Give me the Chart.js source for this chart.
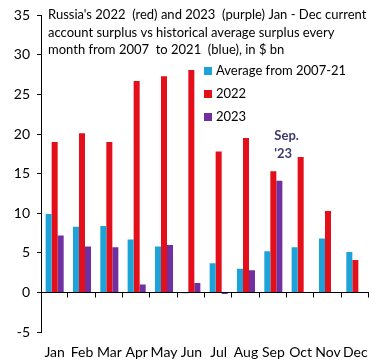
<!DOCTYPE html>
<html>
<head>
<meta charset="utf-8">
<script src="https://cdn.jsdelivr.net/npm/chart.js@4"></script>
<style>
  html, body { margin: 0; padding: 0; background: #fff; }
  #wrap { width: 383px; height: 362px; }
</style>
</head>
<body>
<div id="wrap"><canvas id="bar-chart" width="383" height="362"></canvas></div>
<script>
var months = ['Jan', 'Feb', 'Mar', 'Apr', 'May', 'Jun', 'Jul', 'Aug', 'Sep', 'Oct', 'Nov', 'Dec'];
var avg0721 = [9.9, 8.3, 8.4, 6.7, 5.8, -0.1, 3.7, 3.0, 5.2, 5.7, 6.8, 5.1];
var y2022 = [19.0, 20.1, 19.0, 26.7, 27.3, 28.1, 17.8, 19.5, 15.3, 17.1, 10.3, 4.1];
var y2023 = [7.2, 5.8, 5.7, 1.0, 6.0, 1.2, -0.2, 2.8, 14.1, null, null, null];
var seriesNames = ['Average from 2007-21', '2022', '2023'];
var titleLines = [
  "Russia's 2022  (red) and 2023  (purple) Jan - Dec current",
  "account surplus vs historical average surplus every",
  "month from 2007  to 2021  (blue), in $ bn"
];
var noteLines = ['Sep.', "'23"];

var colorArray = ['#1ea3d9', '#e3101b', '#7030a0'];
var FONT = 'Lato, sans-serif';

// zero line + category tick marks + title, legend and note
var extras = {
  id: 'extras',
  afterDatasetsDraw: function (chart) {
    var ctx = chart.ctx;
    var x = chart.scales.x, y = chart.scales.y;
    var y0 = Math.round(y.getPixelForValue(0)) + 0.5;
    ctx.save();
    ctx.strokeStyle = '#000';
    ctx.lineWidth = 1;
    ctx.beginPath();
    ctx.moveTo(x.left, y0);
    ctx.lineTo(x.right, y0);
    for (var i = 1; i <= months.length; i++) {
      var px = Math.round(x.left + i * (x.right - x.left) / months.length) - 0.5;
      ctx.moveTo(px, y0);
      ctx.lineTo(px, y0 + 5);
    }
    ctx.stroke();

    ctx.fillStyle = '#000';
    ctx.font = '13px ' + FONT;
    ctx.textBaseline = 'middle';
    ctx.textAlign = 'left';
    for (var j = 0; j < titleLines.length; j++) {
      ctx.fillText(titleLines[j], 48, 15 + j * 17.5);
    }

    // legend
    for (var k = 0; k < seriesNames.length; k++) {
      var ly = 71 + k * 23;
      ctx.fillStyle = colorArray[k];
      ctx.fillRect(204, ly - 4, 8, 8);
      ctx.fillStyle = '#000';
      ctx.fillText(seriesNames[k], 216, ly);
    }

    // Sep. '23 note above the Sep bars
    ctx.fillStyle = '#3b3b6e';
    ctx.font = 'bold 13px ' + FONT;
    var sx = x.getPixelForValue(8) + 1;
    ctx.fillText(noteLines[0], sx, 136);
    ctx.fillText(noteLines[1], sx, 154);
    ctx.restore();
  }
};

new Chart(document.getElementById('bar-chart'), {
  type: 'bar',
  data: {
    labels: months,
    datasets: [
      { label: seriesNames[0], data: avg0721, backgroundColor: colorArray[0] },
      { label: seriesNames[1], data: y2022, backgroundColor: colorArray[1] },
      { label: seriesNames[2], data: y2023, backgroundColor: colorArray[2] }
    ]
  },
  options: {
    responsive: false,
    animation: false,
    devicePixelRatio: 1,
    layout: { padding: { top: 10, right: 14, left: 0, bottom: 0 } },
    datasets: { bar: { categoryPercentage: 0.66, barPercentage: 1.0, grouped: true } },
    plugins: {
      legend: { display: false },
      tooltip: { enabled: false },
      title: { display: false }
    },
    scales: {
      x: {
        grid: { display: false },
        border: { display: false },
        ticks: { color: '#000', font: { family: FONT, size: 14 }, padding: 4, maxRotation: 0, autoSkip: false },
        afterFit: function (s) { s.height = 30; }
      },
      y: {
        min: -5,
        max: 35,
        grid: { drawOnChartArea: false, tickLength: 4, color: '#000' },
        border: { display: true, color: '#000' },
        ticks: { stepSize: 5, color: '#000', font: { family: FONT, size: 14 }, padding: 7 },
        afterFit: function (s) { s.width = 41; }
      }
    }
  },
  plugins: [extras]
});
</script>
</body>
</html>
